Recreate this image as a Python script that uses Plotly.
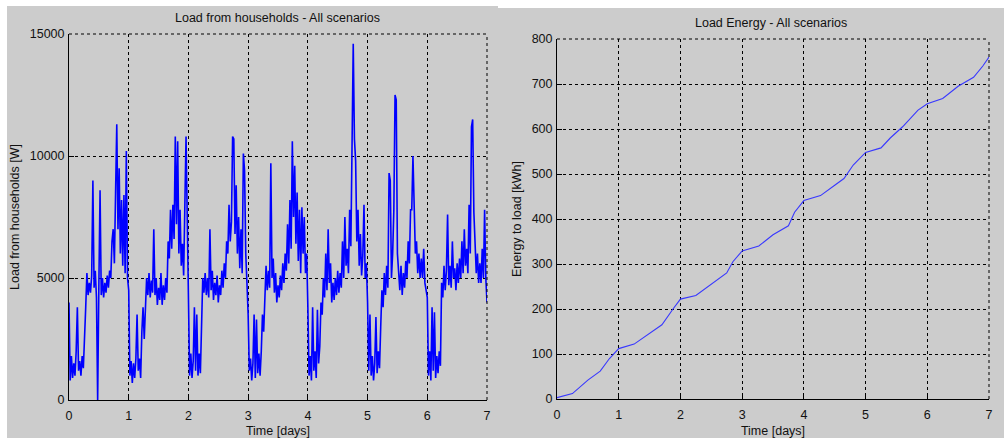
import numpy as np
import plotly.graph_objects as go

# ---------------- data ----------------
SAMPLES_PER_DAY = 50
load_day0 = [4000, 800, 1800, 900, 1500, 1000, 2000, 3800, 1200, 1600,
             1000, 1800, 1300, 3000, 3800, 5200, 4300, 4800, 4400, 5100,
             9000, 4600, 5300, 4200, 0, 4700, 8600, 4300, 5000, 4200,
             4800, 4400, 5100, 4600, 5300, 5000, 6500, 7000, 5600, 8500,
             11300, 7000, 9500, 6000, 8200, 5500, 8400, 5200, 10200, 5000]
load_day1 = [4500, 1000, 1600, 700, 1500, 900, 1700, 3500, 1200, 1700,
             900, 2800, 3800, 2500, 4000, 5000, 4300, 5200, 4200, 4900,
             4400, 7000, 4300, 5000, 3900, 4600, 4100, 5200, 3900, 4700,
             4100, 5000, 4400, 6500, 5800, 7800, 6200, 8000, 6600, 10800,
             7200, 10600, 6000, 7800, 5500, 6400, 5100, 8500, 10800, 7500]
load_day2 = [5000, 1000, 1900, 900, 1600, 3800, 1200, 3500, 1000, 1900,
             1100, 3000, 5000, 4400, 5200, 4300, 5000, 4200, 7000, 4500,
             5300, 4100, 4800, 4300, 5100, 4000, 4700, 4300, 5300, 4600,
             5600, 5000, 6500, 6000, 8000, 6500, 7300, 10800, 10700, 6800,
             8800, 6000, 7500, 5400, 7000, 5200, 10100, 9400, 6000, 4800]
load_day3 = [3500, 1200, 1700, 800, 1500, 3500, 900, 3300, 1100, 1900,
             1000, 2000, 3500, 2800, 4300, 5500, 4500, 5300, 4600, 9700,
             5000, 5800, 4400, 5200, 4000, 4700, 4200, 5100, 4500, 5600,
             4800, 6000, 5300, 7200, 5600, 8200, 6200, 10600, 7500, 9600,
             6400, 8500, 5700, 7800, 5200, 7900, 6000, 7500, 5200, 6000]
load_day4 = [3800, 1000, 1800, 800, 3800, 1200, 2000, 900, 3700, 1500,
             2200, 4000, 3500, 5000, 4200, 6000, 4500, 7000, 4800, 5600,
             4000, 4800, 4100, 5000, 4300, 5300, 4400, 5200, 4600, 6500,
             5000, 7500, 5500, 6200, 5200, 7800, 6300, 11700, 14600, 10700,
             9800, 6500, 7800, 5500, 6800, 5100, 5900, 8000, 5000, 5600]
load_day5 = [4000, 1200, 3500, 1000, 1800, 800, 1500, 3400, 1100, 2000,
             1300, 3000, 4500, 3800, 5200, 4300, 5500, 4600, 9300, 9000,
             5000, 6000, 7800, 12500, 12300, 6000, 5200, 4500, 5500, 4300,
             5200, 4600, 5700, 5000, 6500, 5600, 7800, 7800, 10000, 8000,
             6000, 6500, 5200, 6000, 5000, 5800, 5000, 6200, 4800, 4500]
load_day6 = [4200, 1000, 2000, 800, 3800, 1200, 3600, 900, 1800, 1100,
             2000, 1400, 4800, 4200, 5500, 4500, 5300, 7600, 4700, 5500,
             4600, 6500, 5000, 5400, 4500, 5600, 4800, 5800, 5000, 6500,
             5200, 7000, 5500, 6200, 5200, 8000, 6000, 11200, 11500, 7700,
             6500, 5200, 6000, 4800, 5600, 4800, 6200, 5000, 7800, 5000,
             4000]

energy_t = [0, 0.25, 0.5, 0.7, 0.85, 1.0, 1.25, 1.5, 1.7, 1.88, 2.0, 2.25,
            2.5, 2.75, 2.85, 3.0, 3.27, 3.5, 3.75, 3.85, 4.0, 4.27, 4.5,
            4.65, 4.8, 5.0, 5.25, 5.4, 5.6, 5.7, 5.85, 6.0, 6.25, 6.5, 6.75,
            6.9, 7.0]
energy_kwh = [3, 12, 42, 62, 90, 112, 122, 145, 165, 200, 222, 230, 255,
              280, 305, 329, 340, 365, 385, 415, 441, 452, 475, 490, 520,
              548, 558, 580, 605, 620, 642, 656, 668, 695, 715, 740, 760]

day_ticks = [0, 1, 2, 3, 4, 5, 6, 7]
load_ticks = [0, 5000, 10000, 15000]
load_tick_labels = ["0", "5000", "10000", "15000"]
energy_ticks = [0, 100, 200, 300, 400, 500, 600, 700, 800]

load = (load_day0 + load_day1 + load_day2 + load_day3 + load_day4
        + load_day5 + load_day6)
load_t = np.arange(len(load)) / SAMPLES_PER_DAY

# ---------------- figure ----------------
W, H = 1004, 438
FONT = "Liberation Sans, Arial, sans-serif"
GRAY = "#cccccc"
TXT = "#111111"
TSIZE = 12.5

def px_x(a, b):
    return [a / W, b / W]

def px_y(top, bottom):
    return [(H - bottom) / H, (H - top) / H]

fig = go.Figure()
fig.add_trace(go.Scatter(x=load_t, y=load, mode="lines",
                         line=dict(color="#0000ff", width=1.6),
                         xaxis="x", yaxis="y", showlegend=False))
fig.add_trace(go.Scatter(x=energy_t, y=energy_kwh, mode="lines",
                         line=dict(color="#3838ff", width=1.1),
                         xaxis="x2", yaxis="y2", showlegend=False))

axis_common = dict(
    showgrid=True, gridcolor="black", gridwidth=1, griddash="3px,3px",
    showline=True, linecolor="black", linewidth=1, mirror=False,
    ticks="inside", ticklen=5, tickcolor="black",
    tickfont=dict(family=FONT, size=12.5, color=TXT),
    zeroline=False, fixedrange=True, automargin=False,
)

xtitle = dict(text="Time [days]", standoff=9, font=dict(size=TSIZE))

fig.update_layout(
    width=W, height=H,
    margin=dict(l=0, r=0, t=0, b=0, autoexpand=False),
    paper_bgcolor="white", plot_bgcolor="white",
    font=dict(family=FONT, size=12, color=TXT),
    xaxis=dict(domain=px_x(69, 487), range=[0, 7], tickvals=day_ticks,
               anchor="y", title=xtitle, ticklabelstandoff=4, **axis_common),
    yaxis=dict(domain=px_y(34, 400), range=[0, 15000], tickvals=load_ticks,
               ticktext=load_tick_labels, ticklabelstandoff=1,
               anchor="x", title=dict(text="Load from households [W]",
                                      standoff=7, font=dict(size=TSIZE)),
               **axis_common),
    xaxis2=dict(domain=px_x(557, 989), range=[0, 7], tickvals=day_ticks,
                anchor="y2", title=xtitle, ticklabelstandoff=4, **axis_common),
    yaxis2=dict(domain=px_y(39, 399), range=[0, 800], tickvals=energy_ticks,
                ticklabelstandoff=1,
                anchor="x2", title=dict(text="Energy to load [kWh]",
                                        standoff=7, font=dict(size=TSIZE)),
                **axis_common),
)

shapes = [
    dict(type="rect", xref="paper", yref="paper", layer="below",
         x0=7 / W, x1=498 / W, y0=0, y1=(H - 6) / H,
         fillcolor=GRAY, line=dict(width=0)),
    dict(type="rect", xref="paper", yref="paper", layer="below",
         x0=497 / W, x1=1, y0=0, y1=(H - 8) / H,
         fillcolor=GRAY, line=dict(width=0)),
]
for xa, ya in (("x", "y"), ("x2", "y2")):
    shapes.append(dict(type="line", xref=f"{xa} domain", yref=f"{ya} domain",
                       x0=0, x1=1, y0=1, y1=1,
                       line=dict(color="black", width=1, dash="3px,3px")))
    shapes.append(dict(type="line", xref=f"{xa} domain", yref=f"{ya} domain",
                       x0=1, x1=1, y0=0, y1=1,
                       line=dict(color="black", width=1, dash="3px,3px")))
fig.update_layout(shapes=shapes)

fig.add_annotation(text="Load from households - All scenarios", xref="paper",
                   yref="paper", x=277 / W, y=(H - 18) / H, showarrow=False,
                   xanchor="center", yanchor="middle",
                   font=dict(family=FONT, size=TSIZE, color=TXT))
fig.add_annotation(text="Load Energy - All scenarios", xref="paper",
                   yref="paper", x=771 / W, y=(H - 23) / H, showarrow=False,
                   xanchor="center", yanchor="middle",
                   font=dict(family=FONT, size=TSIZE, color=TXT))

fig.write_html("out.html")
